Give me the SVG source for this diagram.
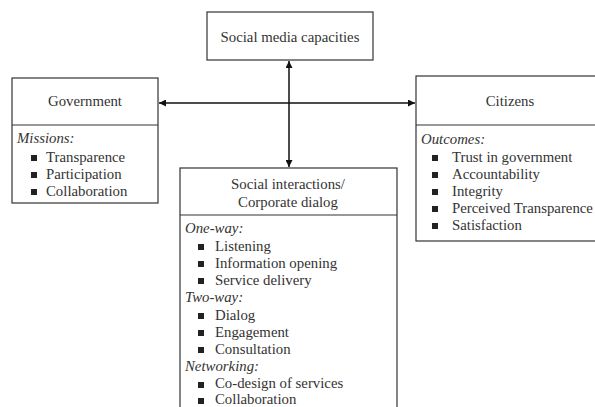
<svg xmlns="http://www.w3.org/2000/svg" width="595" height="407" viewBox="0 0 595 407">
<defs>
<style>
text{font-family:"Liberation Serif","Times New Roman",serif;font-size:14.8px;fill:#333}
.c{text-anchor:middle}
.i{font-style:italic}
.box{fill:#fff;stroke:#333;stroke-width:1.2}
.hdr{fill:none;stroke:#333;stroke-width:1.2}
.b{fill:#222}
.ln{stroke:#111;stroke-width:1.5;fill:none}
</style>
<marker id="ah" viewBox="0 0 10 10" refX="10" refY="5" markerWidth="7" markerHeight="7" orient="auto-start-reverse" markerUnits="userSpaceOnUse">
<path d="M0,0 L10,5 L0,10 z" fill="#111"/>
</marker>
</defs>
<g id="connectors">
<line class="ln" x1="289" y1="61" x2="289" y2="167" marker-start="url(#ah)" marker-end="url(#ah)"/>
<line class="ln" x1="159" y1="103" x2="415" y2="103" marker-start="url(#ah)" marker-end="url(#ah)"/>
</g>
<g id="social-media">
<rect class="box" x="207" y="12" width="166" height="48"/>
<text class="c" x="290" y="42">Social media capacities</text>
</g>
<g id="government">
<rect class="box" x="12" y="78" width="146" height="125"/>
<line class="hdr" x1="12" y1="125" x2="158" y2="125"/>
<text class="c" x="85" y="106">Government</text>
<text class="i" x="17" y="143">Missions:</text>
<rect class="b" x="31" y="155" width="6" height="6"/><text x="46" y="162">Transparence</text>
<rect class="b" x="31" y="172" width="6" height="6"/><text x="46" y="179">Participation</text>
<rect class="b" x="31" y="189" width="6" height="6"/><text x="46" y="196">Collaboration</text>
</g>
<g id="citizens">
<rect class="box" x="416" y="76" width="185" height="165"/>
<line class="hdr" x1="416" y1="125" x2="601" y2="125"/>
<text class="c" x="510" y="106">Citizens</text>
<text class="i" x="421" y="144">Outcomes:</text>
<rect class="b" x="432" y="155" width="6" height="6"/><text x="452" y="162">Trust in government</text>
<rect class="b" x="432" y="172" width="6" height="6"/><text x="452" y="179">Accountability</text>
<rect class="b" x="432" y="189" width="6" height="6"/><text x="452" y="196">Integrity</text>
<rect class="b" x="432" y="206" width="6" height="6"/><text x="452" y="213">Perceived Transparence</text>
<rect class="b" x="432" y="223" width="6" height="6"/><text x="452" y="230">Satisfaction</text>
</g>
<g id="social-interactions">
<rect class="box" x="180" y="168" width="217" height="250"/>
<line class="hdr" x1="180" y1="215" x2="397" y2="215"/>
<text class="c" x="288" y="189">Social interactions/</text>
<text class="c" x="288" y="207">Corporate dialog</text>
<text class="i" x="185" y="233">One-way:</text>
<rect class="b" x="198" y="244" width="6" height="6"/><text x="215" y="251">Listening</text>
<rect class="b" x="198" y="261" width="6" height="6"/><text x="215" y="268">Information opening</text>
<rect class="b" x="198" y="278" width="6" height="6"/><text x="215" y="285">Service delivery</text>
<text class="i" x="185" y="302">Two-way:</text>
<rect class="b" x="198" y="313" width="6" height="6"/><text x="215" y="320">Dialog</text>
<rect class="b" x="198" y="330" width="6" height="6"/><text x="215" y="337">Engagement</text>
<rect class="b" x="198" y="347" width="6" height="6"/><text x="215" y="354">Consultation</text>
<text class="i" x="185" y="371">Networking:</text>
<rect class="b" x="198" y="382" width="6" height="6"/><text x="215" y="388">Co-design of services</text>
<rect class="b" x="198" y="398" width="6" height="6"/><text x="215" y="404">Collaboration</text>
</g>
</svg>
